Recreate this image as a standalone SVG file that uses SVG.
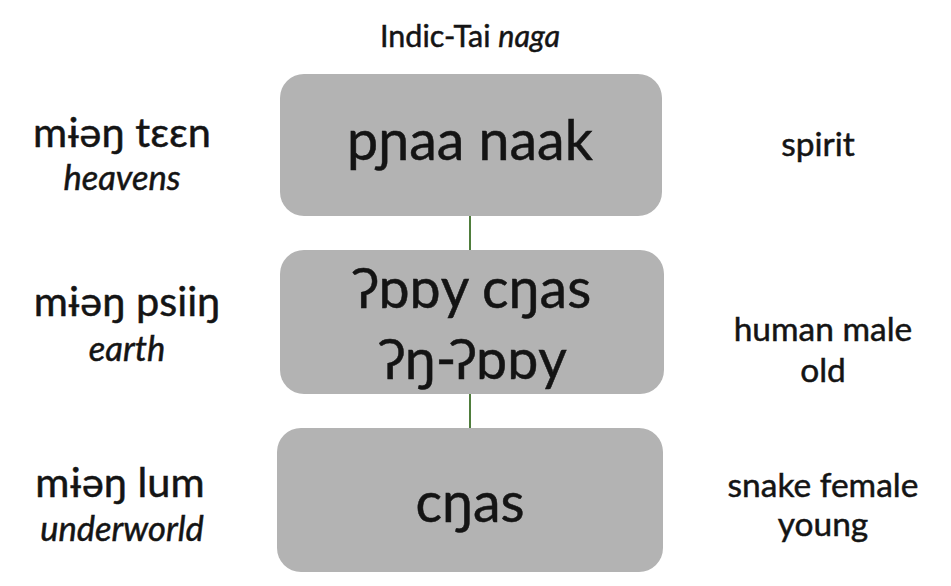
<svg xmlns="http://www.w3.org/2000/svg" width="951" height="586" viewBox="0 0 951 586">
  <style>
    text { font-family: Lato, "Open Sans", "Noto Sans", "DejaVu Sans", sans-serif; fill: #141414; stroke: #141414; stroke-width: 0.5; text-anchor: middle; }
    .box { fill: #b3b3b3; }
    .boxtxt { font-size: 55.5px; }
    .lbl { font-size: 41.5px; }
    .gloss { font-size: 34.5px; font-style: italic; }
    .right { font-size: 33.5px; }
    .title { font-size: 30.5px; }
    .conn { stroke: #4f7d3c; stroke-width: 2; fill: none; }
  </style>
  <rect width="951" height="586" fill="#ffffff"/>
  <text id="title" class="title" x="470" y="47">Indic-Tai <tspan font-style="italic">naga</tspan></text>
  <g id="connectors">
    <line class="conn" x1="470" y1="216" x2="470" y2="250"/>
    <line class="conn" x1="470" y1="394" x2="470" y2="428"/>
  </g>
  <g id="node-heavens">
    <rect class="box" x="280" y="74" width="382" height="142" rx="24"/>
    <text class="boxtxt" x="470" y="160">pɲaa naak</text>
  </g>
  <g id="node-earth">
    <rect class="box" x="280" y="250" width="384" height="144" rx="24"/>
    <text class="boxtxt" x="475" y="308">ʔɒɒy cŋas</text>
    <text class="boxtxt" x="476" y="379">ʔŋ-ʔɒɒy</text>
  </g>
  <g id="node-underworld">
    <rect class="box" x="277" y="428" width="386" height="144" rx="24"/>
    <text class="boxtxt" x="470" y="522">cŋas</text>
  </g>
  <g id="left-labels">
    <text class="lbl" x="122" y="147">mɨəŋ tɛɛn</text>
    <text class="gloss" x="122" y="190">heavens</text>
    <text class="lbl" x="127" y="316">mɨəŋ psiiŋ</text>
    <text class="gloss" x="127" y="361">earth</text>
    <text class="lbl" x="120" y="497">mɨəŋ lum</text>
    <text class="gloss" x="122" y="541">underworld</text>
  </g>
  <g id="right-labels">
    <text class="right" x="818" y="156">spirit</text>
    <text class="right" x="823" y="341">human male</text>
    <text class="right" x="823" y="382">old</text>
    <text class="right" x="823" y="497">snake female</text>
    <text class="right" x="823" y="536">young</text>
  </g>
</svg>
